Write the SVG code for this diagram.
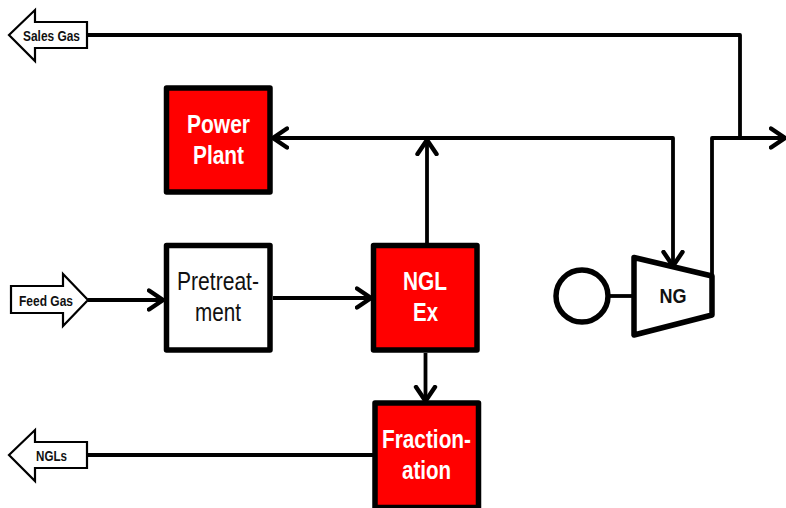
<svg xmlns="http://www.w3.org/2000/svg" width="786" height="508" viewBox="0 0 786 508">
<style>
text{font-family:"Liberation Sans",Arial,sans-serif;text-anchor:middle}
.box{stroke:#000;stroke-width:5.5;stroke-linejoin:round}
.red{fill:#f00}
.white{fill:#fff}
.lab{font-size:25.5px;font-weight:bold;fill:#fff}
.reg{font-size:26px;fill:#111}
.small{font-size:15px;font-weight:bold;fill:#111}
.tag{fill:#fff;stroke:#000;stroke-width:2.2;stroke-linejoin:miter}
.conn{fill:none;stroke:#000;stroke-width:3.8;stroke-linejoin:round}
.arr{marker-end:url(#open)}
</style>
<defs>
<marker id="open" markerUnits="userSpaceOnUse" markerWidth="24" markerHeight="26" refX="17" refY="12" orient="auto-start-reverse">
<path d="M2 2.500 L16 12 L2 21.500" fill="none" stroke="#000" stroke-width="4.400" stroke-linecap="round" stroke-linejoin="miter"/>
</marker>
</defs>
<rect width="786" height="508" fill="#fff"/>
<g id="connectors">
<path class="conn" d="M87 35H740V138"/>
<path class="conn arr" d="M712 276V138H786"/>
<path class="conn arr" style="marker-start:url(#open)" d="M272 138H673V267"/>
<path class="conn arr" d="M427 243V139"/>
<path class="conn arr" d="M88 300H164"/>
<path class="conn arr" d="M273 298H372"/>
<path class="conn arr" d="M425.500 353V402"/>
<path class="conn" d="M87 455H373"/>
<path class="conn" d="M608 296H634"/>
</g>
<g id="sales-gas">
<path class="tag" d="M9 35L35 10V22H87V48H35V61Z"/>
<text class="small" x="51.500" y="41" textLength="57" lengthAdjust="spacingAndGlyphs">Sales Gas</text>
</g>
<g id="feed-gas">
<path class="tag" d="M11 286H63V274L88 300L63 326V313H11Z"/>
<text class="small" x="46" y="305.500" textLength="54" lengthAdjust="spacingAndGlyphs">Feed Gas</text>
</g>
<g id="ngls">
<path class="tag" d="M9 455L35 430V442H87V468H35V481Z"/>
<text class="small" x="51.500" y="461" textLength="31" lengthAdjust="spacingAndGlyphs">NGLs</text>
</g>
<g id="power-plant">
<rect class="box red" x="166.500" y="88" width="103.500" height="104"/>
<text class="lab" x="218.500" y="133" textLength="63" lengthAdjust="spacingAndGlyphs">Power</text>
<text class="lab" x="218.500" y="164" textLength="51" lengthAdjust="spacingAndGlyphs">Plant</text>
</g>
<g id="pretreatment">
<rect class="box white" x="166.500" y="245.500" width="103.500" height="104.500"/>
<text class="reg" x="218" y="290" textLength="82" lengthAdjust="spacingAndGlyphs">Pretreat-</text>
<text class="reg" x="218" y="321" textLength="46" lengthAdjust="spacingAndGlyphs">ment</text>
</g>
<g id="ngl-ex">
<rect class="box red" x="373.500" y="245.500" width="103.500" height="104.500"/>
<text class="lab" x="425" y="290" textLength="44" lengthAdjust="spacingAndGlyphs">NGL</text>
<text class="lab" x="425.500" y="321" textLength="25" lengthAdjust="spacingAndGlyphs">Ex</text>
</g>
<g id="fractionation">
<rect class="box red" x="375" y="403" width="103.500" height="104.500"/>
<text class="lab" x="426.500" y="448" textLength="89" lengthAdjust="spacingAndGlyphs">Fraction-</text>
<text class="lab" x="426.500" y="479" textLength="49" lengthAdjust="spacingAndGlyphs">ation</text>
</g>
<g id="motor">
<circle cx="582" cy="296" r="26" fill="#fff" stroke="#000" stroke-width="5.500"/>
</g>
<g id="ng">
<path d="M634 257.500L712 276V315L634 335Z" fill="#fff" stroke="#000" stroke-width="5.500" stroke-linejoin="round"/>
<text x="673" y="303" font-size="20" font-weight="bold" fill="#111" textLength="27" lengthAdjust="spacingAndGlyphs">NG</text>
</g>
</svg>
